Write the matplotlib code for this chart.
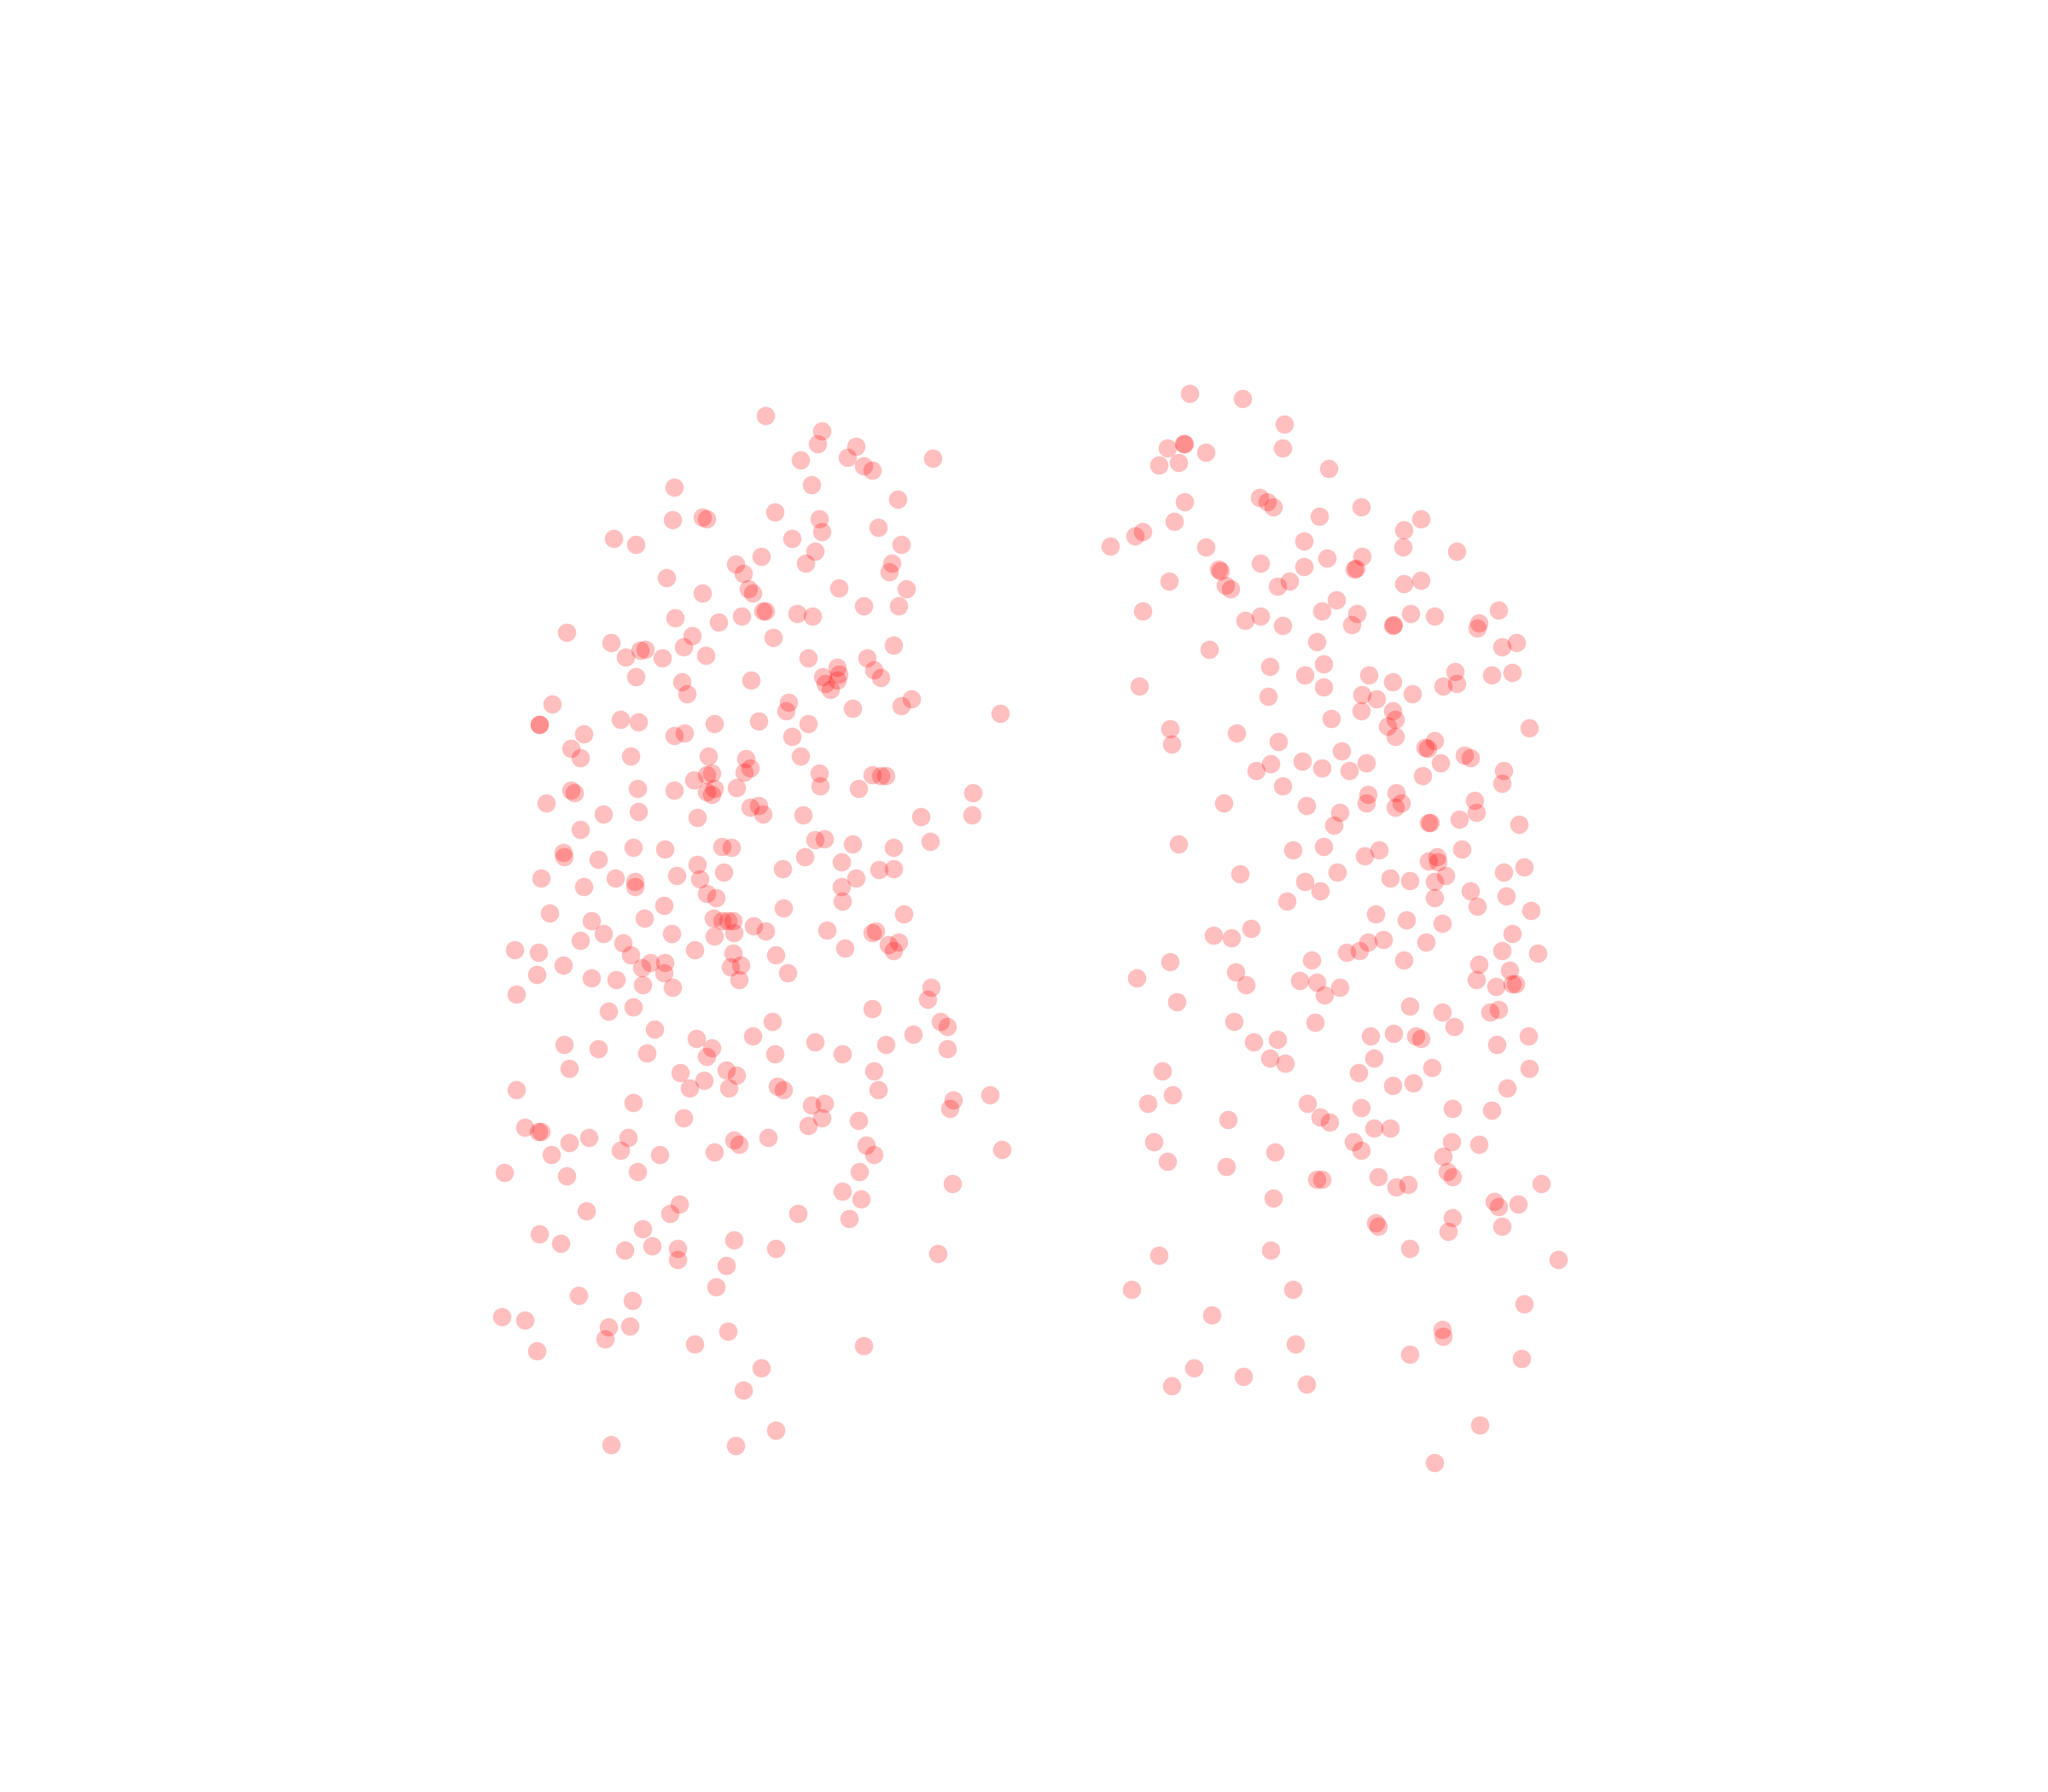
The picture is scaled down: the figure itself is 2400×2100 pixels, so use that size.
import numpy as np
import matplotlib.pyplot as plt

# points, in reference pixels divided by 1.53
left_x = [586,629,626,655,613,649,661,668,714,621,516,687,593,627,515,538,541,629,672,470,487,606,690,624,583,563,617,683,569,681,510,642,694,573,576,538,661,688,584,586,610,622,568,517,550,434,530,592,468,684,523,494,490,479,507,540,619,664,641,669,630,642,674,487,575,522,641,632,636,526,698,690,423,604,602,653,766,475,489,413,413,547,581,619,447,516,524,606,437,444,483,542,613,571,574,570,627,668,674,678,545,541,531,488,516,437,440,547,541,545,564,628,657,745,418,489,574,581,584,462,534,615,705,744,444,624,631,653,712,485,509,553,560,431,432,458,616,684,644,534,599,673,684,414,471,518,554,536,655,486,486,447,644,541,548,508,645,600,421,692,493,546,553,557,561,453,577,586,562,547,633,668,670,462,514,444,477,688,680,684,647,394,412,532,483,561,594,498,509,431,491,559,567,411,508,603,453,472,566,492,515,713,395,710,668,466,485,720,591,725,501,576,699,533,432,545,458,624,678,725,495,541,593,645,436,521,556,564,669,539,395,528,558,595,600,672,758,730,485,621,631,727,523,629,657,619,402,412,414,451,481,436,562,566,588,663,767,475,547,505,422,669,386,434,488,658,729,645,659,449,520,513,611,650,492,413,429,562,478,499,519,594,718,519,556,548,443,484,384,402,466,482,557,463,532,661,411,583,569,594,468,563]
left_y = [318,330,340,342,352,350,357,360,351,371,373,382,392,397,398,396,397,407,404,412,417,412,417,422,426,432,431,431,439,438,442,450,451,451,454,454,464,464,468,468,470,472,472,473,476,484,487,488,492,494,495,497,498,503,504,502,504,504,511,513,518,516,519,518,521,522,521,523,528,531,535,540,539,538,544,542,546,551,553,555,555,554,552,554,562,563,561,564,573,580,579,579,579,581,588,591,592,593,594,594,592,593,597,604,605,605,607,604,606,608,603,602,604,607,615,621,618,617,623,623,626,624,625,624,635,643,642,646,644,649,650,648,649,653,656,658,656,649,660,662,665,666,665,672,672,670,668,673,672,675,679,679,679,684,687,693,690,695,699,700,703,703,705,705,705,705,709,713,714,717,712,714,713,715,715,720,722,721,723,728,726,727,729,727,731,730,731,737,737,739,741,740,739,746,745,745,749,750,750,754,756,756,761,765,772,774,771,782,782,786,788,793,792,795,800,802,803,798,800,803,806,809,807,807,818,821,819,823,820,827,834,833,833,832,834,834,838,842,844,846,845,849,856,856,858,862,863,866,866,871,871,875,873,876,871,877,880,881,882,884,884,884,898,900,897,897,906,912,918,927,922,929,929,933,941,945,952,949,957,954,956,956,960,964,969,985,992,996,1008,1011,1016,1015,1019,1025,1029,1030,1034,1047,1064,1095,1106,1107]

right_x = [911,951,983,894,906,907,923,982,887,902,1017,907,964,970,975,1042,1010,1088,899,1075,869,875,850,923,998,1074,1115,1016,1043,965,998,934,933,1038,1037,895,987,938,942,978,1075,1088,1023,875,965,1012,1039,1080,1098,1147,953,982,1035,1067,1066,1132,1131,1008,926,1150,1161,972,1013,1114,1142,1158,999,1048,872,1013,1066,1105,1115,971,1043,1054,1081,1042,1066,1019,1068,1062,896,897,947,979,1068,1171,1098,1091,1093,1027,1121,1126,973,997,1046,1103,962,1012,1033,1089,1151,1150,982,1047,1069,937,1000,1046,1073,1068,1129,1130,1026,1117,1021,1094,1095,1163,902,990,1013,1056,1045,1119,1100,1094,1101,949,1024,1064,1079,1107,1151,1167,999,1098,1011,1126,985,1098,1153,1131,1172,1053,1077,1104,929,943,958,1059,1047,1092,1158,1041,1031,1150,1177,896,1004,1075,1132,946,1156,870,954,995,1008,1026,1130,1145,1158,1160,901,1014,1079,1104,1141,1147,945,1007,1113,1067,1049,1084,1088,1170,978,960,1146,972,984,1052,1096,1171,890,1040,1066,1082,1154,898,879,1001,1042,1112,1142,940,1011,1018,1052,1064,883,1036,1111,1132,976,1042,1105,894,939,1108,1112,1055,1008,1012,1069,1078,1180,975,1144,1147,1162,1053,1112,1055,1150,1109,887,973,1079,1193,866,990,1167,928,1104,1105,992,1079,1165,914,952,897,1000,1133,1098]
right_y = [301,305,325,343,340,340,346,343,356,354,359,384,381,384,388,388,395,397,399,406,410,407,418,419,414,419,422,427,426,431,434,437,436,435,436,445,445,448,451,449,447,444,459,468,472,468,470,470,472,467,475,479,478,478,479,477,481,491,497,495,492,510,508,514,517,515,517,517,525,526,522,525,523,533,532,535,531,544,544,550,551,556,558,570,561,568,564,557,567,572,573,575,578,580,585,583,584,584,590,588,590,594,590,600,602,608,607,615,617,615,615,618,613,622,622,627,632,630,630,631,646,651,648,651,655,650,656,659,660,669,668,672,674,670,668,664,675,675,682,682,690,687,686,694,697,700,704,707,716,718,711,719,721,721,715,728,729,728,730,736,735,735,738,744,743,749,754,751,752,756,750,755,753,753,767,762,770,775,775,773,782,783,786,791,793,793,795,793,796,798,800,810,814,810,817,818,820,821,831,829,833,838,845,845,848,849,850,857,855,859,864,864,874,874,874,876,882,881,885,889,893,897,901,901,903,903,909,907,906,917,920,924,922,936,932,939,939,943,961,957,956,964,987,987,998,1007,1018,1023,1029,1037,1040,1047,1054,1061,1060,1091,1120]

fig = plt.figure(figsize=(24, 21), dpi=100)
ax = fig.add_axes([0, 0, 1, 1])
ax.scatter(left_x + right_x, left_y + right_y, s=240, color='#ff0000', alpha=0.25, linewidths=0)
ax.set_xlim(0, 1568)
ax.set_ylim(1372, 0)
ax.axis('off')
plt.savefig('out.png', dpi=100)
